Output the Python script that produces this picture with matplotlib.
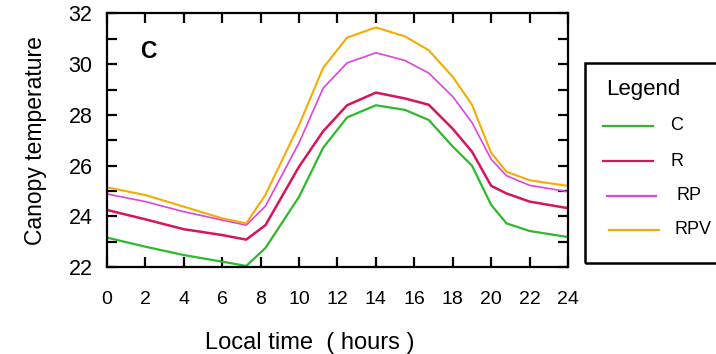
import matplotlib.pyplot as plt
from matplotlib.lines import Line2D
from matplotlib.patches import Rectangle
from matplotlib.ticker import MultipleLocator

plt.rcParams['font.family'] = ['Liberation Sans', 'DejaVu Sans']

# local time (hours)
hours = [0, 2, 4, 6, 7.25, 8.25, 10, 11.25, 12.5, 14, 15.5, 16.75, 18, 19, 20, 20.8, 22, 24]

# canopy temperature for each run
temp_c = [23.16, 22.8, 22.47, 22.21, 22.04, 22.75, 24.77, 26.7, 27.9, 28.38,
          28.2, 27.8, 26.75, 26.0, 24.45, 23.72, 23.42, 23.18]
temp_r = [24.25, 23.88, 23.49, 23.26, 23.08, 23.65, 25.96, 27.35, 28.38, 28.88,
          28.65, 28.4, 27.45, 26.55, 25.2, 24.9, 24.58, 24.32]
temp_rp = [24.88, 24.58, 24.18, 23.85, 23.65, 24.4, 26.9, 29.05, 30.05, 30.45,
           30.15, 29.65, 28.72, 27.7, 26.25, 25.6, 25.22, 24.97]
temp_rpv = [25.14, 24.84, 24.38, 23.92, 23.72, 24.85, 27.6, 29.85, 31.05, 31.45,
            31.1, 30.55, 29.5, 28.4, 26.5, 25.76, 25.42, 25.2]

labels = ["C", "R", "RP", "RPV"]
colors = ["#2eb82e", "#d8145a", "#dd44dd", "#f5ab00"]
widths = [1.6, 1.8, 1.2, 1.5]

fig = plt.figure(figsize=(7.16, 3.54), dpi=100)
ax = fig.add_axes([0.1494, 0.2458, 0.6439, 0.7161])

for y, c, lw in zip([temp_c, temp_r, temp_rp, temp_rpv], colors, widths):
    ax.plot(hours, y, color=c, lw=lw)

ax.set_xlim(0, 24)
ax.set_ylim(22, 32)
ax.xaxis.set_major_locator(MultipleLocator(2))
ax.yaxis.set_major_locator(MultipleLocator(2))
ax.yaxis.set_minor_locator(MultipleLocator(1))
ax.tick_params(which='both', direction='in', top=True, right=True,
               width=1.6, length=7.5)
ax.tick_params(axis='x', pad=17, labelsize=14)
ax.tick_params(axis='y', pad=10.5, labelsize=15.5)
for s in ax.spines.values():
    s.set_linewidth(1.6)

ax.set_xlabel("Local time  ( hours )", fontsize=17)
ax.xaxis.set_label_coords(0.44, -0.255)
ax.set_ylabel("Canopy temperature", fontsize=16.5)
ax.yaxis.set_label_coords(-0.13, 0.5)
ax.text(0.089, 0.85, "C", transform=ax.transAxes, fontsize=16.5,
        fontweight='bold', ha='center', va='center')

# legend box, drawn in figure pixels, runs off the right edge
W, H = 716.0, 354.0
fig.add_artist(Rectangle((585 / W, 1 - 263 / H), 140 / W, 200 / H,
                         transform=fig.transFigure, fill=False,
                         edgecolor='black', lw=1.8, clip_on=False))
fig.text(606 / W, 1 - 89 / H, "Legend", fontsize=16, ha='left', va='center')
line_x = [(603, 653), (603, 653), (607, 656), (609, 659)]
line_y = [126, 161, 196, 230]
text_x = [670, 670, 676, 674]
for lab, c, (x0, x1), yy, tx in zip(labels, colors, line_x, line_y, text_x):
    fig.add_artist(Line2D([x0 / W, x1 / W], [1 - yy / H, 1 - yy / H],
                          transform=fig.transFigure, color=c, lw=1.6))
    fig.text(tx / W, 1 - yy / H, lab, fontsize=13, ha='left', va='center')

fig.savefig("out.png", dpi=100)
